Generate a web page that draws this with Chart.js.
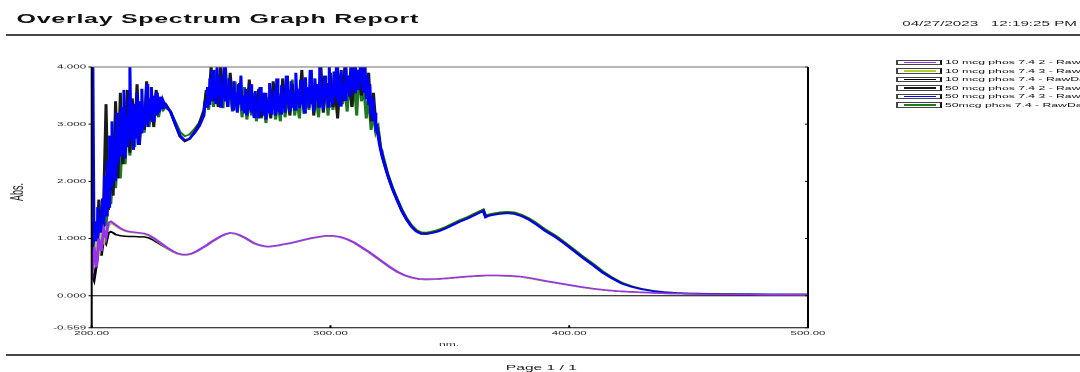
<!DOCTYPE html>
<html>
<head>
<meta charset="utf-8">
<title>Overlay Spectrum Graph Report</title>
<script src="https://cdn.jsdelivr.net/npm/chart.js@4.4.1/dist/chart.umd.min.js"></script>
<style>
  html, body { margin: 0; padding: 0; background: #fff; overflow: hidden; width: 1080px; height: 372px; }
  /* the report page is laid out at half width and stretched horizontally */
  #page { position: absolute; left: 0; top: 0; width: 540px; height: 372px; overflow: hidden;
          transform: scaleX(2); transform-origin: 0 0;
          font-family: 'Liberation Sans', Arial, sans-serif; color: #000; }
  #page canvas { position: absolute; left: 0; top: 0; }
  .t { position: absolute; white-space: pre; line-height: 1; }
  #title { left: 8.3px; top: 13.4px; font-size: 12.5px; font-weight: bold; letter-spacing: 0.35px; color: #111; }
  #stamp { right: 1.5px; top: 20.3px; font-size: 7.6px; color: #222; }
  .rule { position: absolute; right: 0; height: 1.5px; background: #474747; }
  #ytitle { left: 9px; top: 192px; font-size: 9px; color: #222; transform: translate(-50%, -50%) rotate(-90deg); }
  #xtitle { left: 224.5px; top: 340.5px; font-size: 6px; color: #222; transform: translateX(-50%); }
  #pageno { left: 270.7px; top: 364.4px; font-size: 7.8px; color: #222; transform: translateX(-50%); }
  .lg-row { position: absolute; left: 448.3px; width: 200px; height: 8px; }
  .lg-box { position: absolute; left: 0; top: 0.8px; width: 20.8px; height: 3.4px; background: #fff;
            border: 0.5px solid #444; border-right: 1px solid #111; }
  .lg-box i { position: absolute; left: 2.6px; right: 2.6px; top: 1.05px; height: 1.3px; }
  .lg-row span { position: absolute; left: 24.2px; top: 0px; font-size: 6.1px; line-height: 1; white-space: pre; color: #111; }
</style>
</head>
<body>
<div id="page">
  <canvas id="chart" width="540" height="372"></canvas>
  <div class="t" id="title">Overlay Spectrum Graph Report</div>
  <div class="t" id="stamp">04/27/2023   12:19:25 PM</div>
  <div class="rule" style="left:3.3px; top:34px;"></div>
  <div class="t" id="ytitle">Abs.</div>
  <div class="t" id="xtitle">nm.</div>
  <div class="rule" style="left:2.75px; top:354px;"></div>
  <div class="t" id="pageno">Page 1 / 1</div>
  <div id="legend"></div>
</div>
<script>
// ---- wavelength grids (nm) ----
const WL_HIGH = [
  200,201,202,203,204,205,206,207,208,209,210,211,212,213,214,215,216,217,218,219,220,221,222,223,224,225,226,227,228,229,230,231,
  233,235,237,239,241,243,245,
  247,248,249,250,251,252,253,254,255,256,257,258,259,260,261,262,263,264,265,266,267,268,269,270,271,272,273,274,275,276,
  277,278,279,280,281,282,283,284,285,286,287,288,289,290,291,292,293,294,295,296,297,298,299,300,301,302,303,304,305,306,
  307,308,309,310,311,312,313,314,315,316,317,318,319,320,321,322,
  324,326,328,330,332,334,336,338,340,342,
  345,348,351,354,357,360,
  362,363,364,365,366,
  368,371,374,377,380,383,386,
  390,394,398,402,406,410,414,418,422,426,430,
  435,440,445,450,455,460,465,470,475,480,485,490,495,500
];
// finer half-nm grid where the 50 mcg 7.4 3 scan saturates and gets noisy
const WL_BLUE = [
  200,200.5,201,201.5,202,202.5,203,203.5,204,204.5,
  205,205.5,206,206.5,207,207.5,208,208.5,209,209.5,
  210,210.5,211,211.5,212,212.5,213,213.5,214,214.5,
  215,215.5,216,216.5,217,217.5,218,218.5,219,219.5,
  220,220.5,221,221.5,222,222.5,223,223.5,224,224.5,
  225,225.5,226,226.5,227,227.5,228,228.5,229,229.5,
  230,230.5,231,
  233,235,237,239,241,243,245,
  247,247.5,248,248.5,249,249.5,250,250.5,251,251.5,
  252,252.5,253,253.5,254,254.5,255,255.5,256,256.5,
  257,257.5,258,258.5,259,259.5,260,260.5,261,261.5,
  262,262.5,263,263.5,264,264.5,265,265.5,266,266.5,
  267,267.5,268,268.5,269,269.5,270,270.5,271,271.5,
  272,272.5,273,273.5,274,274.5,275,275.5,276,276.5,
  277,277.5,278,278.5,279,279.5,280,280.5,281,281.5,
  282,282.5,283,283.5,284,284.5,285,285.5,286,286.5,
  287,287.5,288,288.5,289,289.5,290,290.5,291,291.5,
  292,292.5,293,293.5,294,294.5,295,295.5,296,296.5,
  297,297.5,298,298.5,299,299.5,300,300.5,301,301.5,
  302,302.5,303,303.5,304,304.5,305,305.5,306,306.5,
  307,307.5,308,308.5,309,309.5,310,310.5,311,311.5,
  312,312.5,313,313.5,314,314.5,315,315.5,316,316.5,
  317,317.5,318,318.5,319,319.5,320,320.5,321,321.5,
  322,
  324,326,328,330,332,334,336,338,340,342,
  345,348,351,354,357,360,
  362,363,364,365,366,
  368,371,374,377,380,383,386,
  390,394,398,402,406,410,414,418,422,426,430,
  435,440,445,450,455,460,465,470,475,480,485,490,495,500
];
const WL_LOW = [
  200,201,202,203,204,205,206,207,208,209,210,
  212,214,216,218,220,222,224,226,228,230,232,234,236,238,240,242,244,246,248,250,252,254,256,258,260,262,264,266,268,270,
  272,274,276,278,280,
  283,286,289,292,295,298,301,304,307,310,313,316,319,322,325,328,331,334,337,340,
  345,350,355,360,365,370,375,380,385,390,395,400,405,410,415,420,425,430,435,440,445,450,455,460,465,470,475,480,485,490,495,500
];

// ---- absorbance, 10 mcg samples (on WL_LOW) ----
const ABS_10_2 = [
  0.30,0.85,0.50,1.00,0.78,1.15,1.02,1.28,1.30,1.27,1.24,
  1.18,1.14,1.12,1.11,1.10,1.09,1.06,1.01,0.95,0.89,
  0.83,0.78,0.74,0.72,0.72,0.74,0.78,0.83,0.88,0.94,
  0.99,1.04,1.08,1.10,1.09,1.06,1.02,0.97,0.92,0.89,
  0.87,0.86,0.87,0.88,0.90,
  0.92,0.95,0.98,1.01,1.03,1.05,1.05,1.03,0.99,0.93,
  0.85,0.77,0.68,0.59,0.50,0.42,0.36,0.32,0.295,0.29,
  0.295,0.31,0.33,0.345,0.355,0.355,0.35,0.335,0.30,0.26,
  0.225,0.19,0.155,0.125,0.10,0.082,0.07,0.06,0.05,0.043,
  0.037,0.032,0.028,0.025,0.022,0.020,0.018,0.017,0.016,0.015,
  0.015,0.014
];
const ABS_10_3 = [
  0.62,0.55,0.95,0.70,1.10,0.90,1.20,1.22,1.27,1.25,1.22,
  1.17,1.13,1.11,1.10,1.09,1.08,1.05,1.00,0.94,0.88,
  0.82,0.77,0.735,0.715,0.715,0.735,0.775,0.825,0.875,0.935,
  0.985,1.035,1.075,1.095,1.085,1.055,1.015,0.965,0.915,0.885,
  0.865,0.855,0.865,0.875,0.895,
  0.915,0.945,0.975,1.005,1.025,1.045,1.045,1.025,0.985,0.925,
  0.845,0.765,0.675,0.585,0.495,0.415,0.355,0.315,0.29,0.285,
  0.29,0.305,0.325,0.34,0.35,0.35,0.345,0.33,0.295,0.255,
  0.22,0.185,0.15,0.12,0.097,0.08,0.068,0.058,0.049,0.042,
  0.036,0.031,0.027,0.024,0.021,0.019,0.017,0.016,0.015,0.014,
  0.014,0.013
];
const ABS_10_1 = [
  0.40,0.28,0.55,0.88,0.70,1.00,0.92,1.10,1.12,1.10,1.07,
  1.05,1.04,1.035,1.035,1.03,1.03,1.01,0.97,0.92,0.87,
  0.82,0.77,0.735,0.715,0.715,0.735,0.775,0.825,0.875,0.935,
  0.985,1.035,1.075,1.095,1.085,1.055,1.015,0.965,0.915,0.885,
  0.865,0.855,0.865,0.875,0.895,
  0.915,0.945,0.975,1.005,1.025,1.045,1.045,1.025,0.985,0.925,
  0.845,0.765,0.675,0.585,0.495,0.415,0.355,0.315,0.29,0.285,
  0.29,0.305,0.325,0.34,0.35,0.35,0.345,0.33,0.295,0.255,
  0.22,0.185,0.15,0.12,0.097,0.08,0.068,0.058,0.049,0.042,
  0.036,0.031,0.027,0.024,0.021,0.019,0.017,0.016,0.015,0.014,
  0.014,0.013
];

// ---- absorbance, 50 mcg samples ----
const ABS_50_2 = [   // on WL_HIGH
  0.55,1.30,0.75,1.68,1.00,1.62,3.35,1.50,2.20,1.75,
  3.40,2.05,3.55,2.30,2.90,3.60,2.50,3.45,2.80,3.70,
  2.65,3.30,2.90,3.75,3.05,3.50,2.95,3.60,3.20,3.48,
  3.30,3.35,
  3.22,3.00,2.78,2.70,2.74,2.86,3.00,
  3.25,3.60,3.35,4.00,3.40,3.70,3.30,4.00,3.55,3.65,
  3.30,3.90,3.38,3.55,3.25,3.72,3.35,3.45,3.18,3.78,
  3.22,3.50,3.30,3.62,3.12,3.55,3.25,3.42,3.10,3.75,
  3.30,3.55,3.20,3.80,3.35,3.58,3.15,3.70,3.28,3.62,
  3.35,3.95,3.25,3.58,3.40,3.80,3.15,3.65,3.42,4.00,
  3.20,3.72,3.45,3.90,3.30,3.60,3.10,3.85,3.40,4.00,
  3.55,3.75,3.30,4.00,3.60,3.85,3.50,4.00,3.62,3.90,
  3.05,3.55,3.00,2.85,2.58,2.40,
  2.11,1.87,1.67,1.48,1.33,1.21,1.13,1.09,1.09,1.10,
  1.13,1.18,1.24,1.30,1.35,1.41,
  1.45,1.47,1.49,1.38,1.40,
  1.42,1.44,1.45,1.44,1.40,1.34,1.26,
  1.14,1.04,0.92,0.79,0.66,0.54,0.41,0.31,0.22,0.16,0.12,
  0.084,0.06,0.047,0.04,0.036,0.033,0.031,0.029,0.028,0.027,0.026,0.025,0.025,0.024
];
const ABS_50_3 = [   // on WL_BLUE
  3.95,4.00,0.70,1.30,0.85,1.55,0.95,1.35,1.05,1.70,
  1.15,2.10,1.40,2.35,1.55,2.80,1.90,3.05,2.10,2.75,
  2.00,3.20,2.30,2.95,2.45,3.30,2.55,3.60,2.40,3.15,
  2.60,3.45,4.00,2.70,3.35,2.55,3.20,2.75,3.55,2.65,
  3.40,2.85,3.62,2.90,3.30,3.00,3.70,2.95,3.45,3.10,
  3.65,3.05,3.50,3.20,3.55,3.15,3.48,3.22,3.45,3.28,
  3.40,3.35,3.32,
  3.22,3.00,2.80,2.72,2.75,2.84,2.96,
  3.15,3.40,3.30,3.65,3.35,3.80,3.40,3.95,3.45,3.75,
  3.35,4.00,3.50,3.85,3.30,3.70,3.45,4.00,3.40,3.65,
  3.30,3.80,3.45,3.60,3.25,3.75,3.40,3.55,3.20,3.70,
  3.35,3.85,3.25,3.50,3.20,3.62,3.15,3.48,3.25,3.70,
  3.20,3.45,3.12,3.58,3.22,3.40,3.10,3.65,3.25,3.42,
  3.15,3.55,3.08,3.38,3.20,3.72,3.18,3.45,3.25,3.60,
  3.15,3.80,3.22,3.50,3.18,3.68,3.30,3.52,3.20,3.85,
  3.35,3.60,3.22,3.75,3.30,3.55,3.25,3.90,3.38,3.62,
  3.28,3.78,3.35,3.50,3.20,3.82,3.40,3.65,3.28,3.95,
  3.35,3.58,3.22,3.80,3.42,3.70,3.30,4.00,3.38,3.60,
  3.25,3.85,3.45,3.72,3.30,4.00,3.40,3.65,3.35,3.92,
  3.48,4.00,3.40,3.78,3.32,3.95,3.50,3.70,3.42,4.00,
  3.55,3.85,3.48,4.00,3.62,3.90,3.55,4.00,3.68,3.95,
  3.60,4.00,3.72,3.90,3.55,4.00,3.45,3.85,3.35,3.70,
  3.15,3.45,3.05,3.20,2.92,2.95,2.78,2.65,2.55,2.46,
  2.38,
  2.10,1.86,1.66,1.47,1.32,1.20,1.12,1.08,1.075,1.09,
  1.12,1.17,1.23,1.29,1.34,1.40,
  1.44,1.46,1.48,1.37,1.39,
  1.41,1.43,1.44,1.43,1.39,1.33,1.25,
  1.13,1.03,0.91,0.78,0.65,0.53,0.40,0.30,0.21,0.155,0.115,
  0.08,0.058,0.046,0.039,0.035,0.032,0.030,0.028,0.027,0.026,0.025,0.024,0.024,0.023
];
const ABS_50_1 = [   // on WL_HIGH
  0.62,1.10,0.80,1.30,0.95,1.55,1.20,1.85,1.60,2.30,
  1.88,2.75,2.05,2.90,2.30,3.10,2.45,3.30,2.60,3.20,
  2.70,3.40,2.85,3.50,2.95,3.30,3.05,3.45,3.12,3.38,
  3.25,3.30,
  3.22,3.04,2.86,2.79,2.82,2.91,3.02,
  3.20,3.55,3.25,3.85,3.30,3.95,3.50,3.60,3.28,4.00,
  3.45,3.52,3.22,3.75,3.40,3.50,3.12,3.65,3.08,3.42,
  3.15,3.55,3.05,3.60,3.10,3.35,3.02,3.48,3.15,3.62,
  3.08,3.40,3.05,3.70,3.12,3.50,3.20,3.78,3.15,3.45,
  3.10,3.70,3.18,3.55,3.25,3.90,3.20,3.50,3.12,3.72,
  3.30,3.60,3.15,3.85,3.25,3.55,3.20,3.90,3.35,3.62,
  3.22,3.80,3.30,3.70,3.15,3.95,3.40,3.65,3.10,3.50,
  2.90,3.20,2.85,2.95,2.60,2.45,
  2.13,1.89,1.69,1.50,1.35,1.23,1.15,1.11,1.105,1.12,
  1.15,1.20,1.26,1.32,1.37,1.43,
  1.47,1.49,1.51,1.40,1.42,
  1.44,1.46,1.47,1.46,1.42,1.36,1.28,
  1.16,1.06,0.94,0.81,0.68,0.56,0.43,0.32,0.23,0.17,0.125,
  0.088,0.065,0.050,0.042,0.037,0.034,0.032,0.030,0.029,0.028,0.027,0.026,0.026,0.025
];

// ---- series names, colours, axis ticks ----
const SERIES_LABELS = [
  '10 mcg phos 7.4 2 - RawData',
  '10 mcg phos 7.4 3 - RawData',
  '10 mcg phos 7.4 - RawData',
  '50 mcg phos 7.4 2 - RawData',
  '50 mcg phos 7.4 3 - RawData',
  '50mcg phos 7.4 - RawData'
];
const SERIES_COLORS = ['#9b30f5', '#a6d12b', '#000000', '#1a1a1a', '#0000ff', '#1f7a1f'];
const SERIES_WL = [WL_LOW, WL_LOW, WL_LOW, WL_HIGH, WL_BLUE, WL_HIGH];
const SERIES_ABS = [ABS_10_2, ABS_10_3, ABS_10_1, ABS_50_2, ABS_50_3, ABS_50_1];
// stacking order on the plot: lower numbers are painted on top
const SERIES_ORDER = [0, 1, 2, 4, 3, 5];
const X_TICKS = [200, 300, 400, 500];
const Y_TICKS = [-0.559, 0, 1, 2, 3, 4];

SERIES_ABS.forEach((vals, i) => {
  if (vals.length !== SERIES_WL[i].length) {
    throw new Error('length mismatch in series ' + i + ': ' + vals.length + ' vs ' + SERIES_WL[i].length);
  }
});

// ---- legend (sample line in a small box + name) ----
const LEGEND_ROW_Y = [59.1, 67.6, 76.1, 84.6, 93.1, 101.6];
const legendEl = document.getElementById('legend');
SERIES_LABELS.forEach((name, i) => {
  const row = document.createElement('div');
  row.className = 'lg-row';
  row.style.top = LEGEND_ROW_Y[i] + 'px';
  const box = document.createElement('div');
  box.className = 'lg-box';
  const ln = document.createElement('i');
  ln.style.background = SERIES_COLORS[i];
  box.appendChild(ln);
  const txt = document.createElement('span');
  txt.textContent = name;
  row.appendChild(box);
  row.appendChild(txt);
  legendEl.appendChild(row);
});

// ---- plot frame, zero line and tick marks ----
const framePlugin = {
  id: 'spectrumFrame',
  beforeDatasetsDraw(chart) {
    const { ctx, chartArea: a, scales: { y } } = chart;
    const y0 = y.getPixelForValue(0);
    ctx.save();
    ctx.strokeStyle = '#000';
    ctx.lineWidth = 1;
    ctx.beginPath();
    ctx.moveTo(a.left, y0);
    ctx.lineTo(a.right, y0);
    ctx.stroke();
    ctx.restore();
  },
  afterDatasetsDraw(chart) {
    const { ctx, chartArea: a, scales: { x, y } } = chart;
    ctx.save();
    ctx.lineWidth = 1;
    ctx.strokeStyle = '#6e6e6e';
    ctx.beginPath();
    ctx.moveTo(a.left, a.top);
    ctx.lineTo(a.right, a.top);
    ctx.stroke();
    ctx.strokeStyle = '#000';
    ctx.beginPath();
    ctx.moveTo(a.left, a.top);
    ctx.lineTo(a.left, a.bottom);
    ctx.lineTo(a.right, a.bottom);
    ctx.lineTo(a.right, a.top);
    ctx.stroke();
    ctx.beginPath();
    Y_TICKS.forEach(v => {
      const py = y.getPixelForValue(v);
      ctx.moveTo(a.left - 1.6, py);
      ctx.lineTo(a.left, py);
      ctx.moveTo(a.right - 1.5, py);
      ctx.lineTo(a.right, py);
    });
    X_TICKS.forEach(v => {
      const px = x.getPixelForValue(v);
      ctx.moveTo(px, a.bottom);
      ctx.lineTo(px, a.bottom - 2.5);
    });
    ctx.stroke();
    ctx.restore();
  }
};

const tickFamily = "'Liberation Sans', Arial, sans-serif";

new Chart(document.getElementById('chart'), {
  type: 'line',
  data: {
    datasets: SERIES_LABELS.map((label, i) => ({
      label,
      data: SERIES_WL[i].map((wl, k) => ({ x: wl, y: SERIES_ABS[i][k] })),
      borderColor: SERIES_COLORS[i],
      backgroundColor: SERIES_COLORS[i],
      borderWidth: 1.5,
      pointRadius: 0,
      tension: 0,
      fill: false,
      order: SERIES_ORDER[i]
    }))
  },
  options: {
    responsive: false,
    devicePixelRatio: 2,
    animation: false,
    events: [],
    layout: { padding: { left: 15.85, right: 136, top: 67, bottom: 24.3 } },
    plugins: { legend: { display: false }, tooltip: { enabled: false } },
    scales: {
      x: {
        type: 'linear',
        min: 200,
        max: 500,
        grid: { display: false, drawTicks: false },
        border: { display: false },
        afterBuildTicks: s => { s.ticks = X_TICKS.map(v => ({ value: v })); },
        afterFit: s => { s.height = 20; },
        ticks: {
          autoSkip: false,
          maxRotation: 0,
          padding: 2.5,
          color: '#1a1a1a',
          font: { family: tickFamily, size: 5.7 },
          callback: v => Number(v).toFixed(2)
        }
      },
      y: {
        type: 'linear',
        min: -0.559,
        max: 4,
        grid: { display: false, drawTicks: false },
        border: { display: false },
        afterBuildTicks: s => { s.ticks = Y_TICKS.map(v => ({ value: v })); },
        afterFit: s => { s.width = 30; },
        ticks: {
          autoSkip: false,
          padding: 2.8,
          color: '#1a1a1a',
          font: { family: tickFamily, size: 5.8 },
          callback: v => Number(v).toFixed(3)
        }
      }
    }
  },
  plugins: [framePlugin]
});
</script>
</body>
</html>
